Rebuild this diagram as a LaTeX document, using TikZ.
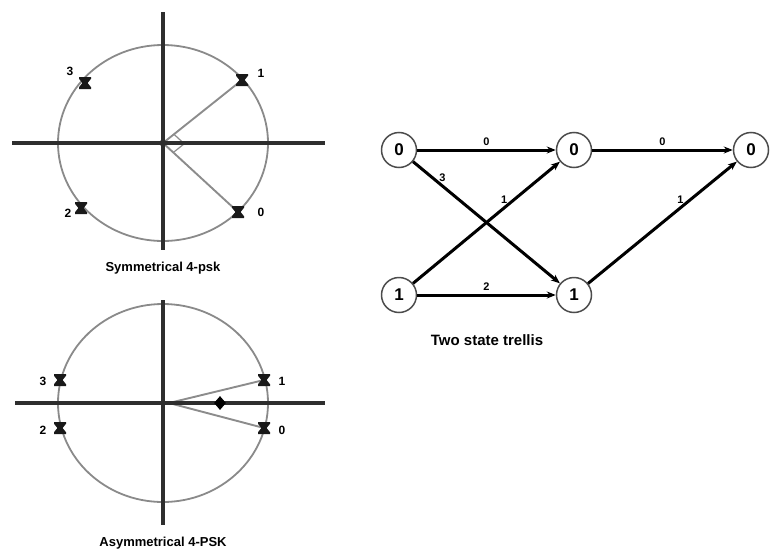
\documentclass[tikz,border=0pt]{standalone}
\usepackage{fontspec}
\setmainfont{Liberation Sans}
\usetikzlibrary{arrows.meta,calc,shapes.geometric}
\definecolor{axisc}{HTML}{2E2E2E}
\definecolor{circc}{HTML}{8A8A8A}
\definecolor{radc}{HTML}{8C8C8C}
\tikzset{
  axisline/.style={draw=axisc, line width=3.4pt},
  unitcircle/.style={draw=circc, line width=1.8pt},
  radline/.style={draw=radc, line width=1.9pt},
  ptlabel/.style={font=\bfseries\fontsize{12}{14}\selectfont, inner sep=0pt},
  captiontext/.style={font=\bfseries\fontsize{13}{15}\selectfont},
  statenode/.style={circle, draw=black!70, line width=1.5pt, minimum size=35pt,
    inner sep=0pt, font=\bfseries\fontsize{17}{20}\selectfont},
  trellisedge/.style={-{Stealth[length=9pt,width=7pt]}, draw=black, line width=3pt},
  edgelabel/.style={font=\bfseries\fontsize{11}{13}\selectfont, inner sep=3pt},
  xmark/.pic={
    \fill[black!90] (-6,-6) -- (6,-6) -- (6,-4.2) -- (2.6,0) -- (6,4.2) -- (6,6)
      -- (-6,6) -- (-6,4.2) -- (-2.6,0) -- (-6,-4.2) -- cycle;
  },
}
\begin{document}
\begin{tikzpicture}[x=1pt, y=-1pt]
  \useasboundingbox (0,0) rectangle (770,554);
  % symmetrical constellation
  \coordinate (sc) at (163,143);
  \coordinate (sl) at (12,143);
  \coordinate (sr) at (325,143);
  \coordinate (st) at (163,12);
  \coordinate (sb) at (163,250);
  \coordinate (s1) at (242,80);
  \coordinate (s0) at (238,212);
  \coordinate (s2) at (81,208);
  \coordinate (s3) at (85,83);
  \draw[unitcircle] (sc) ellipse [x radius=105, y radius=98];
  \draw[radline] (sc) -- (s1);
  \draw[radline] (sc) -- (s0);
  \coordinate (m1) at ($(sc)!14pt!(s1)$);
  \coordinate (m0) at ($(sc)!14pt!(s0)$);
  \draw[radc, line width=1.2pt] (m1) -- ($(m1)+(m0)-(sc)$) -- (m0);
  \draw[axisline] (sl) -- (sr);
  \draw[axisline] (st) -- (sb);
  \fill[axisc] (sc) circle (3.5);
  \pic at (s1) {xmark};
  \pic at (s0) {xmark};
  \pic at (s2) {xmark};
  \pic at (s3) {xmark};
  \node[ptlabel] (s1lab) at (261,73) {1};
  \node[ptlabel] (s0lab) at (261,212) {0};
  \node[ptlabel] (s2lab) at (68,213) {2};
  \node[ptlabel] (s3lab) at (70,71) {3};
  \node[captiontext] (scap) at (163,268) {Symmetrical 4-psk};

  % asymmetrical constellation
  \coordinate (ac) at (163,403);
  \coordinate (al) at (15,403);
  \coordinate (ar) at (325,403);
  \coordinate (at) at (163,300);
  \coordinate (ab) at (163,525);
  \coordinate (af) at (169,403);
  \coordinate (a1) at (264,380);
  \coordinate (a0) at (264,428);
  \coordinate (a2) at (60,428);
  \coordinate (a3) at (60,380);
  \draw[unitcircle] (ac) ellipse [x radius=105, y radius=99];
  \draw[radline] (af) -- (a1);
  \draw[radline] (af) -- (a0);
  \draw[axisline] (al) -- (ar);
  \draw[axisline] (at) -- (ab);
  \node[diamond, fill=black, minimum width=12pt, minimum height=14pt, inner sep=0pt] (ad) at (220,403) {};
  \pic at (a1) {xmark};
  \pic at (a0) {xmark};
  \pic at (a2) {xmark};
  \pic at (a3) {xmark};
  \node[ptlabel] (a1lab) at (282,381) {1};
  \node[ptlabel] (a0lab) at (282,430) {0};
  \node[ptlabel] (a2lab) at (43,430) {2};
  \node[ptlabel] (a3lab) at (43,381) {3};
  \node[captiontext] (acap) at (163,543) {Asymmetrical 4-PSK};

  % two state trellis
  \node[statenode] (t00) at (399,150) {0};
  \node[statenode] (t10) at (399,295) {1};
  \node[statenode] (t01) at (574,150) {0};
  \node[statenode] (t11) at (574,295) {1};
  \node[statenode] (t02) at (751,150) {0};
  \draw[trellisedge] (t00) -- node[edgelabel, above] {0} (t01);
  \draw[trellisedge] (t00) -- node[edgelabel, above, pos=0.2] {3} (t11);
  \draw[trellisedge] (t10) -- node[edgelabel, above, pos=0.62] {1} (t01);
  \draw[trellisedge] (t10) -- node[edgelabel, above] {2} (t11);
  \draw[trellisedge] (t01) -- node[edgelabel, above] {0} (t02);
  \draw[trellisedge] (t11) -- node[edgelabel, above, pos=0.62] {1} (t02);
  \node[font=\bfseries\fontsize{15}{18}\selectfont] (tcap) at (487,340) {Two state trellis};
\end{tikzpicture}
\end{document}
